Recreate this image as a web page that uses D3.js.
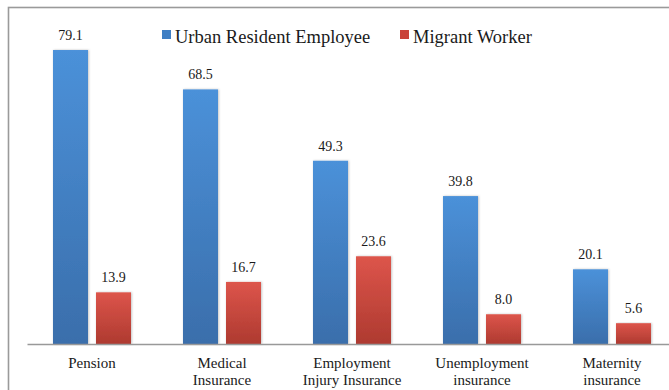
<!DOCTYPE html>
<html>
<head>
<meta charset="utf-8">
<script src="https://cdn.jsdelivr.net/npm/d3@7/dist/d3.min.js"></script>
<style>
  html, body { margin: 0; padding: 0; background: #fff; }
  svg { display: block; }
  svg text { font-family: "Liberation Serif", "Times New Roman", serif; }
</style>
</head>
<body>
<svg id="chart" width="669" height="390"></svg>
<script>
// Social insurance coverage (%) by type
const categories = ["Pension", "Medical\nInsurance", "Employment\nInjury Insurance", "Unemployment\ninsurance", "Maternity\ninsurance"];
const seriesNames = ["Urban Resident Employee", "Migrant Worker"];
const urbanValues = [79.1, 68.5, 49.3, 39.8, 20.1];
const migrantValues = [13.9, 16.7, 23.6, 8.0, 5.6];

const seriesValues = [urbanValues, migrantValues];
const colors = [
  { top: "#4b91d9", bottom: "#3a6eab", key: "#3f7fc4" },
  { top: "#dd554b", bottom: "#ae3a30", key: "#c9433a" }
];

const svg = d3.select("#chart");
const W = 669, H = 390;
const baseY = 344;

// Outer frame
svg.append("rect")
  .attr("x", 8.5).attr("y", 7.5)
  .attr("width", W + 10).attr("height", H + 10)
  .attr("fill", "none").attr("stroke", "#9a9a9a").attr("stroke-width", 1.6);

const defs = svg.append("defs");
colors.forEach((c, i) => {
  const g = defs.append("linearGradient").attr("id", "grad" + i)
    .attr("x1", 0).attr("y1", 0).attr("x2", 0).attr("y2", 1);
  g.append("stop").attr("offset", "0%").attr("stop-color", c.top);
  g.append("stop").attr("offset", "100%").attr("stop-color", c.bottom);
});
const shadow = defs.append("filter").attr("id", "shadow")
  .attr("x", "-20%").attr("y", "-5%").attr("width", "140%").attr("height", "110%");
shadow.append("feDropShadow").attr("dx", 0.8).attr("dy", 0).attr("stdDeviation", 0.8)
  .attr("flood-color", "#000").attr("flood-opacity", 0.25);

const x0 = d3.scaleBand().domain(categories).range([27, 677])
  .paddingInner(0.4).paddingOuter(0.2);
const x1 = d3.scaleBand().domain(d3.range(seriesNames.length))
  .range([0, x0.bandwidth()]).paddingInner(8 / 43);
const y = d3.scaleLinear().domain([0, 90]).range([baseY, 9.5]);

// Bars and value labels
const groups = svg.append("g").selectAll("g")
  .data(categories).join("g")
  .attr("transform", d => `translate(${x0(d)},0)`);

groups.each(function (cat, ci) {
  const g = d3.select(this);
  seriesValues.forEach((vals, si) => {
    const v = vals[ci];
    g.append("rect")
      .attr("x", x1(si)).attr("y", y(v))
      .attr("width", x1.bandwidth()).attr("height", baseY - y(v))
      .attr("fill", `url(#grad${si})`)
      .attr("filter", "url(#shadow)");
    g.append("text")
      .attr("x", x1(si) + x1.bandwidth() / 2).attr("y", y(v) - 10)
      .attr("text-anchor", "middle").attr("font-size", 14).attr("fill", "#1a1a1a")
      .text(v.toFixed(1));
  });
});

// Category axis
const axis = svg.append("g").attr("transform", `translate(0,${baseY})`)
  .call(d3.axisBottom(x0).tickSize(0).tickSizeOuter(0));
axis.attr("font-family", null);
axis.select(".domain").attr("stroke", "#999").attr("stroke-width", 1.6);
axis.selectAll(".tick text").each(function (d) {
  const t = d3.select(this);
  t.text(null).attr("dy", null).attr("y", 24)
    .attr("font-size", 15).attr("fill", "#1a1a1a");
  d.split("\n").forEach((line, i) => {
    t.append("tspan").attr("x", 0).attr("dy", i === 0 ? 0 : 17).text(line);
  });
});

// Legend
const legend = svg.append("g");
const legendX = [162, 400];
seriesNames.forEach((name, i) => {
  legend.append("rect")
    .attr("x", legendX[i]).attr("y", 30).attr("width", 9).attr("height", 9)
    .attr("fill", colors[i].key);
  legend.append("text")
    .attr("x", legendX[i] + 13).attr("y", 43)
    .attr("font-size", 18.5).attr("fill", "#1a1a1a")
    .text(name);
});
</script>
</body>
</html>
